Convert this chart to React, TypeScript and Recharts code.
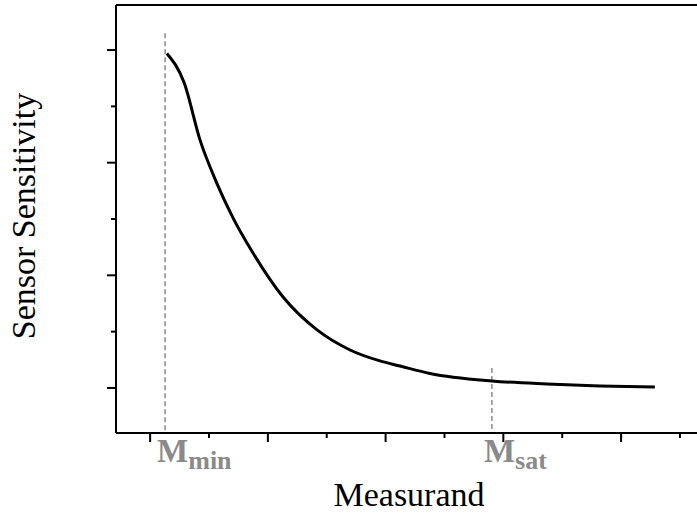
import { LineChart, Line, XAxis, YAxis, ReferenceLine } from 'recharts';

const FONT = "'Liberation Serif', 'Times New Roman', serif";
const GRAY = '#8a8a8a';

// curve (measurand, sensitivity in axis units)
const measurand = [0.142, 0.289, 0.424, 0.566, 0.705, 0.874, 1.129, 1.418, 1.698, 1.952, 2.122, 2.377, 2.903, 3.37, 3.82, 4.287];
const sensitivity = [2.97, 2.709, 2.2, 1.819, 1.508, 1.198, 0.807, 0.515, 0.337, 0.24, 0.195, 0.129, 0.062, 0.035, 0.018, 0.009];

const xTicks = [0, 0.5, 1, 1.5, 2, 2.5, 3, 3.5, 4, 4.5];
const yTicks = [0, 0.5, 1, 1.5, 2, 2.5, 3];
const xDomain: [number, number] = [-0.29, 4.645];
const yDomain: [number, number] = [-0.4, 3.4];

// dashed markers: position, top of the dash, subscript
const mMin = { x: 0.127, top: 3.15, sub: 'min' };
const mSat = { x: 2.903, top: 0.177, sub: 'sat' };

const data = measurand.map((m, i) => ({ m, s: sensitivity[i] }));

const isMajor = (v: number) => Number.isInteger(v);

function XTick({ x, y, payload }: any) {
  const len = isMajor(payload.value) ? 9 : 5;
  return <line x1={x} y1={y} x2={x} y2={y + len} stroke="#000" strokeWidth={2} />;
}

function YTick({ x, y, payload }: any) {
  const len = isMajor(payload.value) ? 9 : 5;
  return <line x1={x - len} y1={y} x2={x} y2={y} stroke="#000" strokeWidth={2} />;
}

function MLabel({ viewBox, sub }: any) {
  if (!viewBox) return null;
  const x = viewBox.x - 8;
  const y = viewBox.y + viewBox.height + 29;
  return (
    <text x={x} y={y} fill={GRAY} fontFamily={FONT} fontWeight="bold">
      <tspan fontSize={33}>M</tspan>
      <tspan fontSize={26} dy={7}>{sub}</tspan>
    </text>
  );
}

function XLabel({ viewBox }: any) {
  if (!viewBox) return null;
  return (
    <text x={viewBox.x + viewBox.width / 2 + 2.5} y={viewBox.y + 73} textAnchor="middle" fontFamily={FONT} fontSize={34} fill="#000">
      Measurand
    </text>
  );
}

function YLabel({ viewBox }: any) {
  if (!viewBox) return null;
  const cx = viewBox.x + 35;
  const cy = viewBox.y + viewBox.height / 2 - 3;
  return (
    <text x={cx} y={cy} transform={`rotate(-90 ${cx} ${cy})`} textAnchor="middle" fontFamily={FONT} fontSize={34} fill="#000">
      Sensor Sensitivity
    </text>
  );
}

export default function App() {
  return (
    <div style={{ position: 'absolute', left: 0, top: 0 }}>
      <LineChart width={697} height={515} data={data} margin={{ top: 5, right: 0, bottom: 0, left: 0 }}>
        <XAxis
          dataKey="m"
          type="number"
          domain={xDomain}
          ticks={xTicks}
          interval={0}
          allowDataOverflow
          height={82}
          tickSize={0}
          tickMargin={0}
          tickLine={false}
          tick={<XTick />}
          axisLine={{ stroke: '#000', strokeWidth: 2 }}
          label={<XLabel />}
        />
        <YAxis
          type="number"
          domain={yDomain}
          ticks={yTicks}
          interval={0}
          allowDataOverflow
          width={116}
          tickSize={0}
          tickMargin={0}
          tickLine={false}
          tick={<YTick />}
          axisLine={{ stroke: '#000', strokeWidth: 2 }}
          label={<YLabel />}
        />
        <ReferenceLine y={yDomain[1]} stroke="#000" strokeWidth={2} />
        {[mMin, mSat].map((mk) => (
          <ReferenceLine
            key={mk.sub}
            segment={[{ x: mk.x, y: mk.top }, { x: mk.x, y: yDomain[0] }]}
            stroke={GRAY}
            strokeWidth={1.5}
            strokeDasharray="5 3"
            label={<MLabel sub={mk.sub} />}
          />
        ))}
        <Line
          dataKey="s"
          type="monotone"
          stroke="#000"
          strokeWidth={3}
          dot={false}
          isAnimationActive={false}
        />
      </LineChart>
    </div>
  );
}
